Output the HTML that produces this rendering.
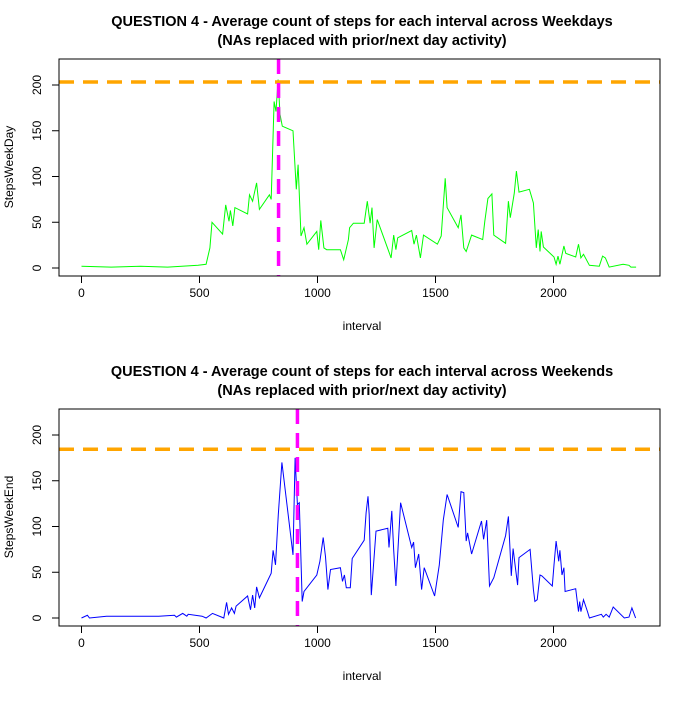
<!DOCTYPE html>
<html><head><meta charset="utf-8"><style>
body{margin:0;background:#fff}
svg text{font-family:"Liberation Sans",sans-serif;fill:#000}
</style></head><body>
<svg id="c" width="700" height="700" xmlns="http://www.w3.org/2000/svg"></svg>
<script>
const xTicks=[0,500,1000,1500,2000];
const yTicks=[0,50,100,150,200];
const wdIntervals=[0,126,251,365,494,528,544,553,598,611,625,631,641,650,704,712,725,742,754,796,804,816,824,833,841,851,896,910,918,930,943,955,997,1005,1014,1027,1039,1097,1111,1131,1136,1152,1198,1211,1223,1231,1240,1253,1312,1323,1332,1340,1399,1409,1419,1436,1449,1508,1524,1541,1549,1596,1608,1620,1630,1653,1700,1709,1722,1739,1747,1797,1809,1817,1834,1843,1854,1898,1915,1927,1935,1943,1948,1957,2002,2011,2019,2027,2044,2052,2094,2106,2116,2127,2152,2194,2208,2220,2236,2295,2320,2328,2350];
const wdSteps=[2,1,2,1,3,4,22,50,37,69,51,63,46,66,59,80,73,93,64,80,75,182,171,206,168,155,150,86,113,35,44,26,40,20,52,22,20,20,9,31,44,49,49,73,49,66,22,53,11,36,20,33,41,26,36,11,36,26,35,98,66,44,58,22,18,36,31,51,76,81,36,27,73,55,82,106,83,86,71,22,42,18,40,23,12,4,13,4,24,16,12,26,11,15,3,2,13,11,1,4,3,1,1];
const weIntervals=[0,25,34,106,327,394,402,429,446,452,511,528,555,603,615,623,636,648,655,704,716,725,734,742,754,804,812,822,834,849,896,905,915,923,935,943,997,1010,1024,1034,1044,1055,1097,1106,1114,1122,1139,1147,1198,1206,1214,1219,1228,1248,1298,1303,1315,1323,1332,1352,1399,1407,1415,1429,1441,1452,1496,1516,1533,1549,1596,1608,1620,1630,1636,1653,1695,1704,1717,1729,1747,1797,1809,1821,1829,1838,1848,1854,1901,1915,1921,1931,1943,1951,1995,2002,2011,2022,2027,2036,2044,2049,2094,2106,2111,2116,2127,2144,2152,2203,2211,2223,2236,2253,2300,2320,2332,2348];
const weSteps=[0,3,0,2,2,3,1,5,2,4,2,0,5,0,17,4,11,5,13,24,9,25,11,34,22,49,74,58,113,170,69,175,124,126,18,29,47,62,88,67,31,53,55,40,47,33,33,65,85,115,133,113,25,95,98,77,117,74,35,126,77,83,55,70,31,55,24,58,107,135,99,138,137,84,93,70,106,86,107,35,44,90,111,46,76,56,36,66,75,31,18,20,47,46,35,58,84,62,74,47,55,29,32,7,18,7,20,7,0,4,1,4,1,12,0,1,11,0];
const maxLines=[203.3,184.4];
const maxIntervals=[835,915];

const svg=document.getElementById('c');
const NS='http://www.w3.org/2000/svg';
function mk(tag,attrs,parent){const e=document.createElementNS(NS,tag);for(const k in attrs)e.setAttribute(k,attrs[k]);(parent||svg).appendChild(e);return e;}

const panels=[
 {off:0,xs:wdIntervals,ys:wdSteps,col:'#00ff00',ylab:'StepsWeekDay',title:'QUESTION 4 - Average count of steps for each interval across Weekdays',name:'weekday'},
 {off:350,xs:weIntervals,ys:weSteps,col:'#0000ff',ylab:'StepsWeekEnd',title:'QUESTION 4 - Average count of steps for each interval across Weekends',name:'weekend'}
];
panels.forEach((p,pi)=>{
 const o=p.off;
 const X=v=>81.5+v*0.236;
 const Y=v=>o+268-v*0.915;
 const g=mk('g',{});
 
 
 const t1=mk('text',{x:362,y:o+26,'text-anchor':'middle','font-size':'14.5','font-weight':'bold'},g);
 t1.textContent=p.title;
 
 
 const t2=mk('text',{x:362,y:o+45,'text-anchor':'middle','font-size':'14.5','font-weight':'bold'},g);
 t2.textContent='(NAs replaced with prior/next day activity)';
 
 
 const pts=p.xs.map((x,i)=>X(x).toFixed(1)+','+Y(p.ys[i]).toFixed(1)).join(' ');
 const pl=mk('polyline',{points:pts,fill:'none',stroke:p.col,'stroke-width':1},g);
 
 
 const h=mk('line',{x1:59,x2:660,y1:Y(maxLines[pi]),y2:Y(maxLines[pi]),stroke:'#ffa500','stroke-width':3.5,'stroke-dasharray':'15,9'},g);
 
 
 const v=mk('line',{x1:X(maxIntervals[pi]),x2:X(maxIntervals[pi]),y1:o+59,y2:o+276,stroke:'#ff00ff','stroke-width':3.5,'stroke-dasharray':'15,9'},g);
 
 
 const b=mk('rect',{x:59,y:o+59,width:601,height:217,fill:'none',stroke:'#000','stroke-width':1},g);
 
 
 xTicks.forEach(t=>{
  const l=mk('line',{x1:X(t),x2:X(t),y1:o+276,y2:o+283,stroke:'#000'},g);
  
  
  const tx=mk('text',{x:X(t),y:o+297,'text-anchor':'middle','font-size':'12'},g);
  tx.textContent=t;
  
  
 });
 yTicks.forEach(t=>{
  const l=mk('line',{x1:52,x2:59,y1:Y(t),y2:Y(t),stroke:'#000'},g);
  
  
  const tx=mk('text',{x:0,y:0,'text-anchor':'middle','font-size':'12',transform:`translate(41,${Y(t)}) rotate(-90)`},g);
  tx.textContent=t;
  
  
 });
 const xl=mk('text',{x:362,y:o+330,'text-anchor':'middle','font-size':'12'},g);
 xl.textContent='interval';
 
 
 const yl=mk('text',{x:0,y:0,'text-anchor':'middle','font-size':'12',transform:`translate(13,${o+167}) rotate(-90)`},g);
 yl.textContent=p.ylab;
 
 
});
</script>
</body></html>
